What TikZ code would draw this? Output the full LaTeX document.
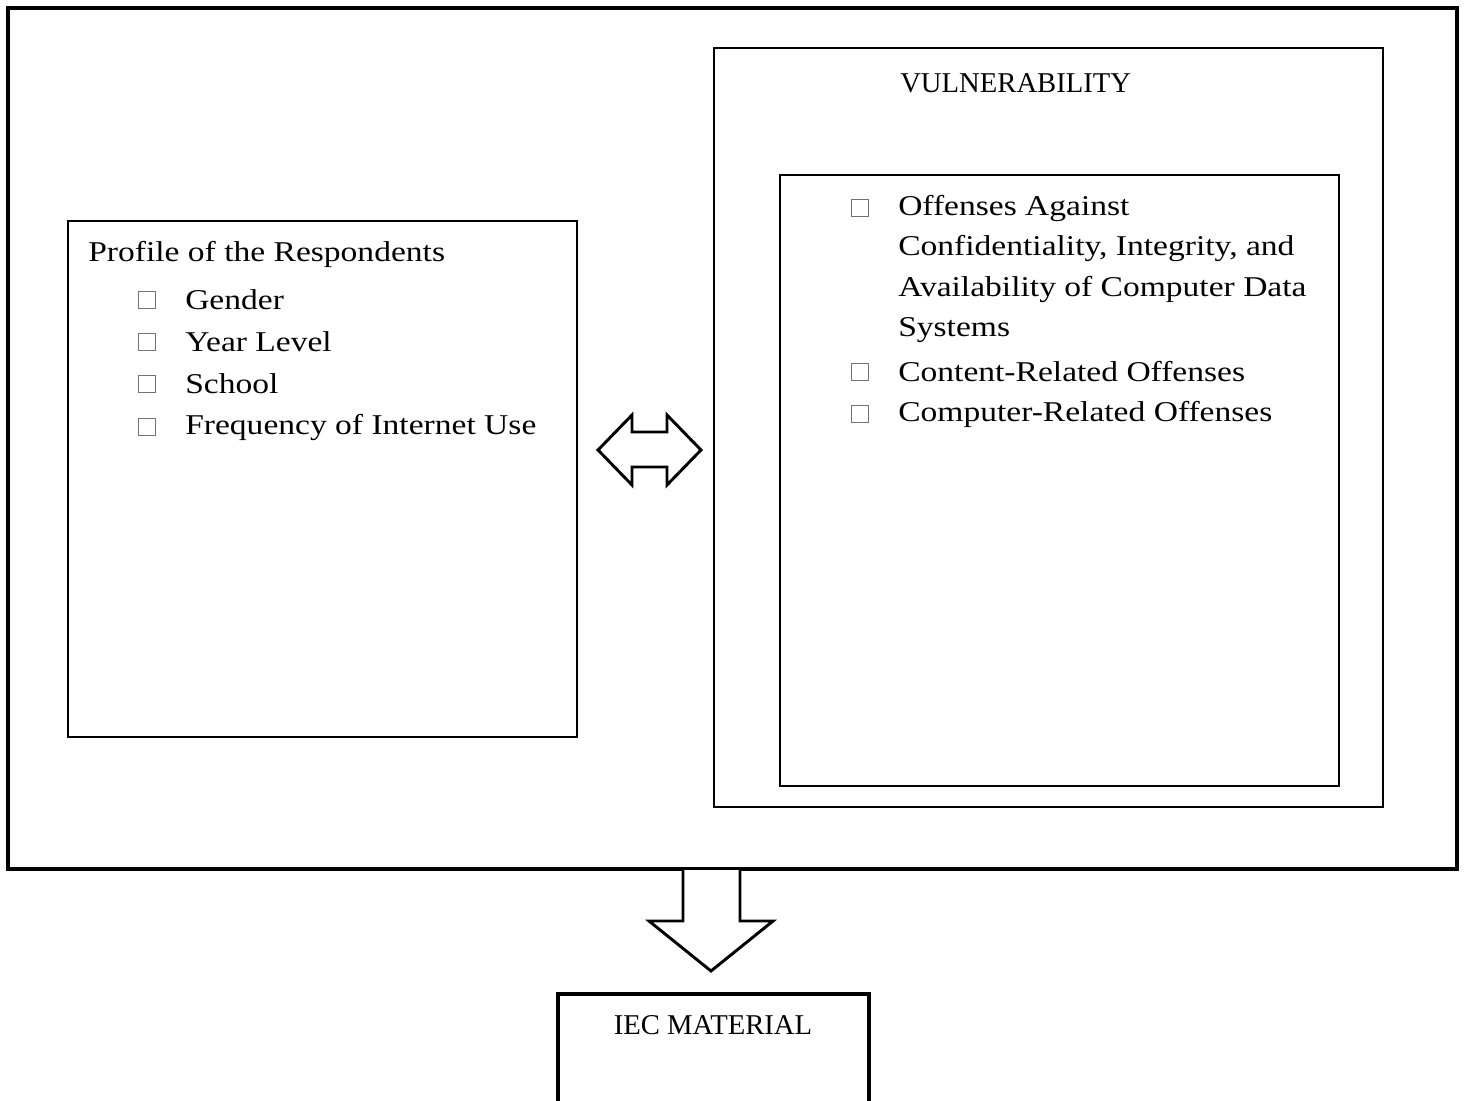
\documentclass[tikz,border=0pt]{standalone}
\usepackage{fontspec}
\setmainfont[FakeStretch=1.17]{Liberation Serif}
\newfontfamily\capsfont{Liberation Serif}
\begin{document}
\begin{tikzpicture}[x=0.75pt,y=-0.75pt,
  thickbox/.style={draw=black,line width=3pt},
  thinbox/.style={draw=black,line width=1.1pt},
  midbox/.style={draw=black,line width=1.5pt},
  blockarrow/.style={draw=black,line width=2.2pt,line join=miter,fill=white},
  txt/.style={anchor=west,inner sep=0pt,font=\fontsize{21.5}{26}\selectfont},
  captxt/.style={txt,font=\fontsize{21.5}{26}\selectfont\capsfont},
  bul/.style={draw=black!55,line width=0.6pt,minimum size=12.5pt,inner sep=0pt}]
\useasboundingbox (0,0) rectangle (1464,1100);
% outer frame
\draw[thickbox] (8,8) rectangle (1457,869);
% left box
\draw[thinbox] (68,221) rectangle (577,737);
\node[txt] (prof) at (88,254) {Profile of the Respondents};
\foreach \y/\t [count=\i] in {300/Gender,342/Year Level,384/School,427/Frequency of Internet Use}{
  \node[bul] (lb\i) at (147,\y) {};
  \node[txt] (lt\i) at (185,\y) {\t};
}
% vulnerability boxes
\draw[midbox] (714,48) rectangle (1383,807);
\node[captxt] (vul) at (900,83) {VULNERABILITY};
\draw[midbox] (780,175) rectangle (1339,786);
\node[bul] (vb1) at (860,208) {};
\node[txt] (vt1) at (898,208) {Offenses Against};
\node[txt] (vt1b) at (898,248) {Confidentiality, Integrity, and};
\node[txt] (vt1c) at (898,289) {Availability of Computer Data};
\node[txt] (vt1d) at (898,330) {Systems};
\node[bul] (vb2) at (860,372) {};
\node[txt] (vt2) at (898,372) {Content-Related Offenses};
\node[bul] (vb3) at (860,414) {};
\node[txt] (vt3) at (898,414) {Computer-Related Offenses};
% double arrow
\draw[blockarrow] (598,450) -- (632,415) -- (632,432) -- (667,432) -- (667,415)
  -- (701,450) -- (667,485) -- (667,467) -- (632,467) -- (632,485) -- cycle;
% down arrow
\draw[blockarrow] (683,870) -- (683,921) -- (649,921) -- (711,971) -- (773,921)
  -- (740,921) -- (740,870);
% IEC box
\draw[thickbox] (558,1102) -- (558,994) -- (869,994) -- (869,1102);
\node[captxt,anchor=center] (iec) at (713,1025) {IEC MATERIAL};
\end{tikzpicture}
\end{document}
